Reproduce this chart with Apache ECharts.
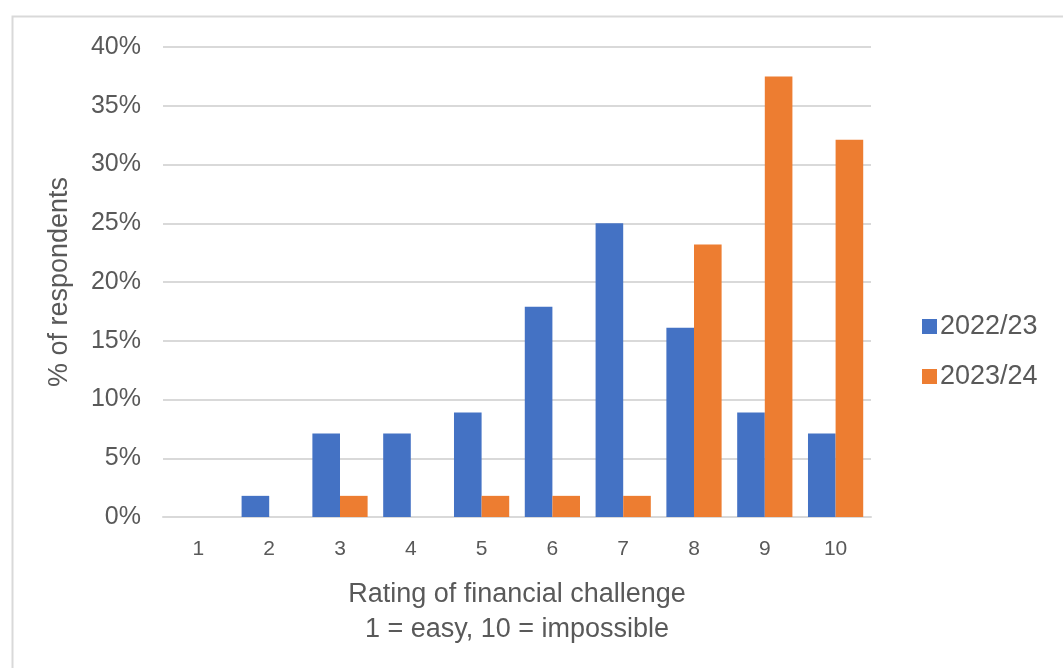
<!DOCTYPE html>
<html>
<head>
<meta charset="utf-8">
<script src="https://cdn.jsdelivr.net/npm/echarts@6/dist/echarts.min.js"></script>
<style>html,body{margin:0;padding:0;background:#fff}#c{width:1063px;height:668px}</style>
</head>
<body>
<div id="c"></div>
<script>
const categories = ['1','2','3','4','5','6','7','8','9','10'];
const seriesNames = ['2022/23','2023/24'];
const values2022 = [0, 1.8, 7.1, 7.1, 8.9, 17.9, 25.0, 16.1, 8.9, 7.1];
const values2023 = [0, 0, 1.8, 0, 1.8, 1.8, 1.8, 23.2, 37.5, 32.1];
const yTicks = [0, 5, 10, 15, 20, 25, 30, 35, 40];

const chart = echarts.init(document.getElementById('c'));
const font = '"Liberation Sans", Arial, sans-serif';
chart.setOption({
  animation: false,
  textStyle: { fontFamily: font },
  graphic: [{
    type: 'rect', left: 10, top: 14,
    shape: { width: 1070, height: 670 },
    style: { fill: 'none', stroke: '#d9d9d9', lineWidth: 2 }
  }],
  grid: { left: 163, right: 192, top: 47, bottom: 151 },
  legend: {
    orient: 'vertical', left: 917, top: 308,
    itemWidth: 15, itemHeight: 15, itemGap: 23,
    icon: 'rect',
    textStyle: { fontSize: 27, color: '#595959', fontFamily: font, padding: [0, 0, 0, -2] }
  },
  xAxis: {
    type: 'category', data: categories,
    axisLine: { lineStyle: { color: '#d9d9d9', width: 2 } },
    axisTick: { show: false },
    axisLabel: { color: '#595959', fontSize: 21, margin: 22, fontFamily: font },
    name: 'Rating of financial challenge\n1 = easy, 10 = impossible',
    nameLocation: 'middle', nameGap: 60,
    nameTextStyle: { color: '#595959', fontSize: 27, lineHeight: 35, fontFamily: font }
  },
  yAxis: {
    type: 'value', min: yTicks[0], max: yTicks[yTicks.length - 1], interval: 5,
    axisLabel: { formatter: '{value}%', color: '#595959', fontSize: 25, margin: 22, fontFamily: font },
    splitLine: { lineStyle: { color: '#d9d9d9', width: 2 } },
    axisLine: { show: false }, axisTick: { show: false },
    name: '% of respondents', nameLocation: 'middle', nameRotate: 90, nameGap: 90,
    nameTextStyle: { color: '#595959', fontSize: 27, fontFamily: font }
  },
  series: [
    { name: seriesNames[0], type: 'bar', data: values2022, barGap: '0%', barCategoryGap: '22%',
      itemStyle: { color: '#4472C4' } },
    { name: seriesNames[1], type: 'bar', data: values2023, barGap: '0%', barCategoryGap: '22%',
      itemStyle: { color: '#ED7D31' } }
  ]
});
</script>
</body>
</html>
